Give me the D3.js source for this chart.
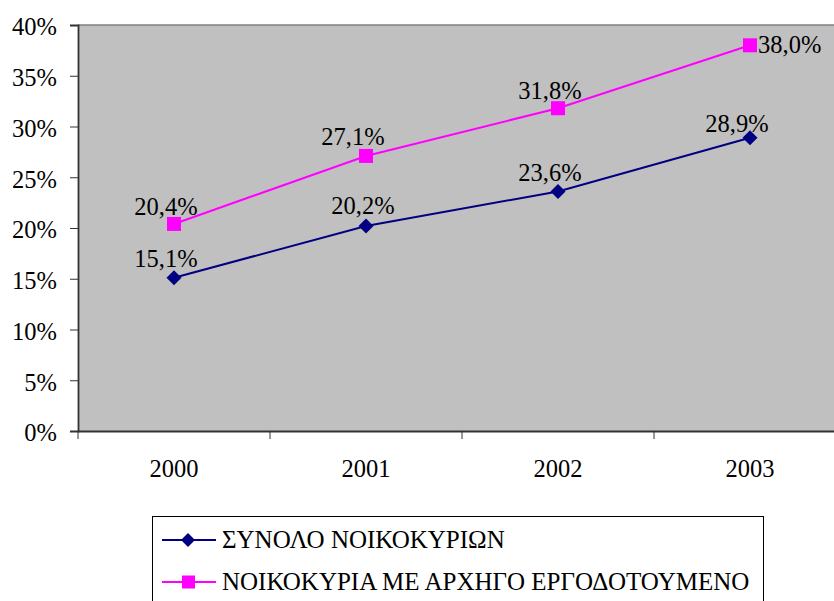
<!DOCTYPE html>
<html><head><meta charset="utf-8">
<script src="https://cdn.jsdelivr.net/npm/d3@7"></script>
<style>body{margin:0;background:#fff}svg{display:block}</style>
</head><body>
<script>
const categories = ["2000","2001","2002","2003"];
const seriesNames = ["ΣΥΝΟΛΟ ΝΟΙΚΟΚΥΡΙΩΝ","ΝΟΙΚΟΚΥΡΙΑ ΜΕ ΑΡΧΗΓΟ ΕΡΓΟΔΟΤΟΥΜΕΝΟ"];
const totalValues = [15.1, 20.2, 23.6, 28.9];
const employeeValues = [20.4, 27.1, 31.8, 38.0];
const yTicks = [0,5,10,15,20,25,30,35,40];

(function(){
const W=834,H=601;
const font="'Liberation Serif','Times New Roman',serif";
const fs=24.5;
const svg=d3.select("body").append("svg").attr("width",W).attr("height",H);
const pL=78, pR=846, pT=25, pB=431;
const x=d3.scaleBand().domain(categories).range([pL,pR]);
const y=d3.scaleLinear().domain([0,40]).range([pB,pT]);
const cx=c=>x(c)+x.bandwidth()/2;

svg.append("rect").attr("x",pL).attr("y",pT).attr("width",pR-pL).attr("height",pB-pT).attr("fill","#C0C0C0");
svg.append("line").attr("x1",pL).attr("x2",pR).attr("y1",pT).attr("y2",pT).attr("stroke","#808080").attr("stroke-width",1.5);

const yAxis=svg.append("g").attr("transform",`translate(${pL},0)`)
 .call(d3.axisLeft(y).tickValues(yTicks).tickSize(8).tickFormat(d=>d+"%"));
yAxis.select(".domain").attr("stroke","#333").attr("stroke-width",1.8);
yAxis.selectAll(".tick line").attr("stroke","#333");
yAxis.selectAll("text").attr("font-family",font).attr("font-size",fs).attr("fill","#000").attr("x",-21).attr("dy","0.4em");

const xAxis=svg.append("g").attr("transform",`translate(0,${pB})`)
 .call(d3.axisBottom(x).tickSize(0).tickFormat(""));
xAxis.select(".domain").attr("stroke","#333").attr("stroke-width",1.8);
const bt=[pL, ...categories.map(c=>x(c)+x.bandwidth())];
svg.append("g").selectAll("line").data(bt).join("line")
 .attr("x1",d=>d).attr("x2",d=>d).attr("y1",pB).attr("y2",pB+8).attr("stroke","#333");
svg.append("g").selectAll("text").data(categories).join("text")
 .attr("x",d=>cx(d)).attr("y",pB+46).attr("text-anchor","middle")
 .attr("font-family",font).attr("font-size",fs).text(d=>d);

const line=d3.line().x((d,i)=>cx(categories[i])).y(d=>y(d));
const fmt=v=>v.toFixed(1).replace(".",",")+"%";

function drawSeries(vals,color,marker){
  svg.append("path").datum(vals).attr("d",line).attr("fill","none").attr("stroke",color).attr("stroke-width",2);
  const g=svg.append("g");
  vals.forEach((v,i)=>{
    const px=cx(categories[i]),py=y(v);
    if(marker==="square") g.append("rect").attr("x",px-7).attr("y",py-7).attr("width",14).attr("height",14).attr("fill",color);
    else g.append("path").attr("d",`M${px},${py-7.5}L${px+7.5},${py}L${px},${py+7.5}L${px-7.5},${py}Z`).attr("fill",color);
  });
}
drawSeries(totalValues,"#000080","diamond");
drawSeries(employeeValues,"#FF00FF","square");

// label placement offsets (layout only)
const offTotal=[[-8,-11],[-3,-12],[-8,-10],[-13,-6]];
const offEmp=[[-8,-9],[-13,-11],[-8,-9],[8,8]];
function labels(vals,offs,lastRight){
  vals.forEach((v,i)=>{
    const px=cx(categories[i]),py=y(v);
    const t=svg.append("text").attr("font-family",font).attr("font-size",fs).text(fmt(v))
      .attr("x",px+offs[i][0]).attr("y",py+offs[i][1]);
    t.attr("text-anchor",(lastRight && i===vals.length-1)?"start":"middle");
  });
}
labels(totalValues,offTotal,false);
labels(employeeValues,offEmp,true);

const lg=svg.append("g");
lg.append("rect").attr("x",152.5).attr("y",516.5).attr("width",611).attr("height",100).attr("fill","#fff").attr("stroke","#000").attr("stroke-width",1);
const colors=["#000080","#FF00FF"], markers=["diamond","square"];
seriesNames.forEach((n,i)=>{
  const ly=540+i*42;
  lg.append("line").attr("x1",162).attr("x2",216).attr("y1",ly).attr("y2",ly).attr("stroke",colors[i]).attr("stroke-width",2);
  if(markers[i]==="square") lg.append("rect").attr("x",182).attr("y",ly-6.5).attr("width",13).attr("height",13).attr("fill",colors[i]);
  else lg.append("path").attr("d",`M188,${ly-7}L195,${ly}L188,${ly+7}L181,${ly}Z`).attr("fill",colors[i]);
  lg.append("text").attr("x",222).attr("y",ly+7.5).attr("font-family",font).attr("font-size",25).text(n);
});
})();
</script>
</body></html>
